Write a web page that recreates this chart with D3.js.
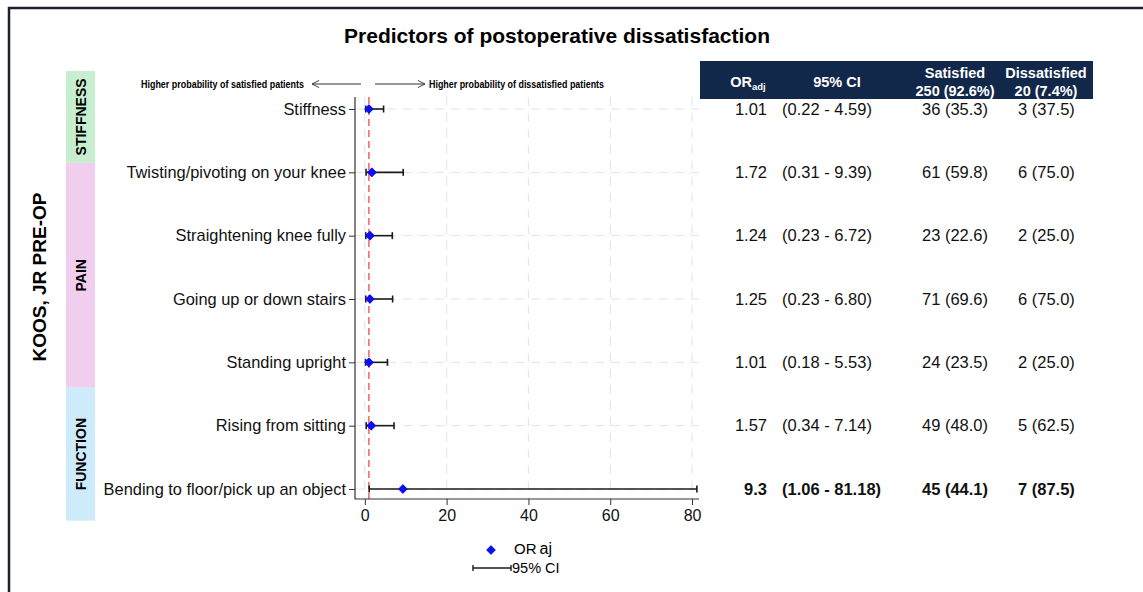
<!DOCTYPE html>
<html>
<head>
<meta charset="utf-8">
<script src="https://cdn.jsdelivr.net/npm/d3@7"></script>
<style>
  body { margin: 0; background: #fff; }
  svg { display: block; font-family: "Liberation Sans", Arial, sans-serif; }
</style>
</head>
<body>
<div id="chart"></div>
<script>
// data
var items = [
  "Stiffness",
  "Twisting/pivoting on your knee",
  "Straightening knee fully",
  "Going up or down stairs",
  "Standing upright",
  "Rising from sitting",
  "Bending to floor/pick up an object"
];
var orAdj = [1.01, 1.72, 1.24, 1.25, 1.01, 1.57, 9.3];
var ciLow = [0.22, 0.31, 0.23, 0.23, 0.18, 0.34, 1.06];
var ciHigh = [4.59, 9.39, 6.72, 6.80, 5.53, 7.14, 81.18];
var orLabels = ["1.01", "1.72", "1.24", "1.25", "1.01", "1.57", "9.3"];
var ciLabels = ["(0.22 - 4.59)", "(0.31 - 9.39)", "(0.23 - 6.72)", "(0.23 - 6.80)",
  "(0.18 - 5.53)", "(0.34 - 7.14)", "(1.06 - 81.18)"];
var satisfied = ["36 (35.3)", "61 (59.8)", "23 (22.6)", "71 (69.6)", "24 (23.5)", "49 (48.0)", "45 (44.1)"];
var dissatisfied = ["3 (37.5)", "6 (75.0)", "2 (25.0)", "6 (75.0)", "2 (25.0)", "5 (62.5)", "7 (87.5)"];
var significant = [false, false, false, false, false, false, true];
var groups = ["STIFFNESS", "PAIN", "FUNCTION"];
var groupStart = [0, 1, 5];
var groupEnd = [0, 4, 6];
var groupColors = ["#c7efcf", "#f1cdee", "#cdebfa"];
var xTicks = [0, 20, 40, 60, 80];

var W = 1143, H = 592;
var plot = { left: 355, right: 699, top: 97, bottom: 499 };

var svg = d3.select("#chart").append("svg")
  .attr("width", W).attr("height", H);

// outer frame
svg.append("path")
  .attr("d", "M9," + H + " V8 H" + W)
  .attr("fill", "none")
  .attr("stroke", "#1b1f2e")
  .attr("stroke-width", 2.5);

var x = d3.scaleLinear().domain([-2.4, 81.7]).range([plot.left, plot.right]);
var y = d3.scalePoint().domain(items).range([109, 489]);
var step = y.step();

// title
svg.append("text")
  .attr("x", 557).attr("y", 43)
  .attr("text-anchor", "middle")
  .style("font-size", "21px").style("font-weight", "bold")
  .text("Predictors of postoperative dissatisfaction");

// arrows with direction text
var defs = svg.append("defs");
defs.append("marker")
  .attr("id", "arr").attr("viewBox", "0 0 10 10")
  .attr("refX", 9).attr("refY", 5)
  .attr("markerWidth", 9).attr("markerHeight", 9)
  .attr("orient", "auto-start-reverse")
  .append("path").attr("d", "M1,1 L9,5 L1,9")
  .attr("fill", "none").attr("stroke", "#333").attr("stroke-width", 1);

var arrowY = 84;
svg.append("line").attr("x1", 361).attr("x2", 312).attr("y1", arrowY).attr("y2", arrowY)
  .attr("stroke", "#333").attr("marker-end", "url(#arr)");
svg.append("line").attr("x1", 375).attr("x2", 425).attr("y1", arrowY).attr("y2", arrowY)
  .attr("stroke", "#333").attr("marker-end", "url(#arr)");
svg.append("text")
  .attr("x", 304).attr("y", arrowY).attr("dy", "0.35em")
  .attr("text-anchor", "end")
  .attr("textLength", 163).attr("lengthAdjust", "spacingAndGlyphs")
  .style("font-size", "10px").style("font-weight", "bold")
  .text("Higher probability of satisfied patients");
svg.append("text")
  .attr("x", 429).attr("y", arrowY).attr("dy", "0.35em")
  .attr("textLength", 175).attr("lengthAdjust", "spacingAndGlyphs")
  .style("font-size", "10px").style("font-weight", "bold")
  .text("Higher probability of dissatisfied patients");

// group bands on the left
var bandTop = function (i) {
  return i === 1 ? y(items[groupStart[i]]) - 0.15 * step
    : y(items[groupStart[i]]) - 0.6 * step;
};
var bandBottom = function (i) {
  return i < groups.length - 1 ? bandTop(i + 1) : y(items[groupEnd[i]]) + 0.5 * step;
};
var bands = svg.append("g");
groups.forEach(function (g, i) {
  var t = bandTop(i), b = bandBottom(i);
  bands.append("rect")
    .attr("x", 66).attr("y", t).attr("width", 29).attr("height", b - t)
    .attr("fill", groupColors[i]);
  bands.append("text")
    .attr("transform", "translate(81," + (t + b) / 2 + ") rotate(-90)")
    .attr("text-anchor", "middle").attr("dy", "0.35em")
    .style("font-size", "14px").style("font-weight", "bold")
    .text(g);
});

svg.append("text")
  .attr("transform", "translate(39,277) rotate(-90)")
  .attr("text-anchor", "middle").attr("dy", "0.35em")
  .style("font-size", "19px").style("font-weight", "bold")
  .text("KOOS, JR PRE-OP");

// grid
var grid = svg.append("g")
  .attr("stroke", "#e3e3e3").attr("stroke-dasharray", "9,7").attr("stroke-width", 1);
grid.selectAll(".gx").data(xTicks).join("line")
  .attr("x1", d => x(d)).attr("x2", d => x(d))
  .attr("y1", plot.top).attr("y2", plot.bottom);
grid.selectAll(".gy").data(items).join("line")
  .attr("x1", plot.left).attr("x2", plot.right)
  .attr("y1", d => y(d)).attr("y2", d => y(d));

// reference line at OR = 1
svg.append("line")
  .attr("x1", x(1)).attr("x2", x(1))
  .attr("y1", plot.top).attr("y2", plot.bottom)
  .attr("stroke", "#f24848").attr("stroke-width", 1.3)
  .attr("stroke-dasharray", "7,4");

// axes
var yAxis = svg.append("g")
  .attr("transform", "translate(" + plot.left + ",0)")
  .call(d3.axisLeft(y).tickSize(6).tickPadding(3));
yAxis.select(".domain").remove();
yAxis.selectAll("text").style("font-size", "16.4px").attr("fill", "#111");
yAxis.selectAll("line").attr("stroke", "#333");

var xAxis = svg.append("g")
  .attr("transform", "translate(0," + plot.bottom + ")")
  .call(d3.axisBottom(x).tickValues(xTicks).tickSize(6).tickPadding(5));
xAxis.select(".domain").remove();
xAxis.selectAll("text").style("font-size", "16px").attr("fill", "#111");
xAxis.selectAll("line").attr("stroke", "#333");

svg.append("path")
  .attr("d", "M" + plot.left + "," + plot.top + " V" + plot.bottom + " H" + plot.right)
  .attr("fill", "none").attr("stroke", "#333").attr("stroke-width", 1.2);

// confidence intervals and point estimates
var rows = items.map(function (d, i) {
  return { name: d, or: orAdj[i], lo: ciLow[i], hi: ciHigh[i] };
});
var ci = svg.append("g").attr("stroke", "#1a1a1a").attr("stroke-width", 1.6);
ci.selectAll(".ci").data(rows).join("line")
  .attr("x1", d => x(d.lo)).attr("x2", d => x(d.hi))
  .attr("y1", d => y(d.name)).attr("y2", d => y(d.name));
ci.selectAll(".capL").data(rows).join("line")
  .attr("x1", d => x(d.lo)).attr("x2", d => x(d.lo))
  .attr("y1", d => y(d.name) - 3.5).attr("y2", d => y(d.name) + 3.5);
ci.selectAll(".capR").data(rows).join("line")
  .attr("x1", d => x(d.hi)).attr("x2", d => x(d.hi))
  .attr("y1", d => y(d.name) - 3.5).attr("y2", d => y(d.name) + 3.5);

// rotated square, close to the stata diamond marker
var marker = d3.symbol().type(d3.symbolSquare).size(36);
svg.append("g").selectAll("path").data(rows).join("path")
  .attr("d", marker)
  .attr("transform", d => "translate(" + x(d.or) + "," + y(d.name) + ") rotate(45)")
  .attr("fill", "#0a10f0")
  .attr("stroke", "#0a10f0").attr("stroke-width", 1).attr("stroke-linejoin", "round");

// legend
svg.append("path").attr("d", marker)
  .attr("transform", "translate(491,550) rotate(45)").attr("fill", "#0a10f0")
  .attr("stroke", "#0a10f0").attr("stroke-width", 1).attr("stroke-linejoin", "round");
svg.append("text").attr("x", 514).attr("y", 549).attr("dy", "0.35em")
  .style("font-size", "15px")
  .text("OR").append("tspan").attr("dx", 3).style("font-size", "16px").text("aj");
var lg = svg.append("g").attr("stroke", "#1a1a1a").attr("stroke-width", 1.4);
lg.append("line").attr("x1", 473).attr("x2", 511).attr("y1", 568).attr("y2", 568);
lg.append("line").attr("x1", 473).attr("x2", 473).attr("y1", 565).attr("y2", 571);
lg.append("line").attr("x1", 511).attr("x2", 511).attr("y1", 565).attr("y2", 571);
svg.append("text").attr("x", 512).attr("y", 568).attr("dy", "0.35em")
  .style("font-size", "14.5px").text("95% CI");

// table header
var head = svg.append("g");
head.append("rect").attr("x", 700).attr("y", 61).attr("width", 393).attr("height", 38)
  .attr("fill", "#12284a");
var hs = function (sel) {
  return sel.attr("fill", "#fff").style("font-size", "14.5px").style("font-weight", "bold")
    .attr("text-anchor", "middle");
};
var orHead = hs(head.append("text").attr("x", 748).attr("y", 82).attr("dy", "0.35em"));
orHead.append("tspan").text("OR");
orHead.append("tspan").attr("dy", 3).style("font-size", "9.5px").text("adj");
hs(head.append("text").attr("x", 837).attr("y", 82).attr("dy", "0.35em")).text("95% CI");
hs(head.append("text").attr("x", 955).attr("y", 73).attr("dy", "0.35em")).text("Satisfied");
hs(head.append("text").attr("x", 955).attr("y", 91).attr("dy", "0.35em")).text("250 (92.6%)");
hs(head.append("text").attr("x", 1046).attr("y", 73).attr("dy", "0.35em")).text("Dissatisfied");
hs(head.append("text").attr("x", 1046).attr("y", 91).attr("dy", "0.35em")).text("20 (7.4%)");

// table body
var body = svg.append("g").style("font-size", "16.5px").attr("fill", "#111");
var cols = [
  { vals: orLabels, x: 767, anchor: "end" },
  { vals: ciLabels, x: 782, anchor: "start" },
  { vals: satisfied, x: 922, anchor: "start" },
  { vals: dissatisfied, x: 1018, anchor: "start" }
];
cols.forEach(function (c) {
  body.selectAll(null).data(items).join("text")
    .attr("x", c.x)
    .attr("y", d => y(d))
    .attr("dy", "0.35em")
    .attr("text-anchor", c.anchor)
    .style("font-weight", (d, i) => significant[i] ? "bold" : "normal")
    .text((d, i) => c.vals[i]);
});
</script>
</body>
</html>
